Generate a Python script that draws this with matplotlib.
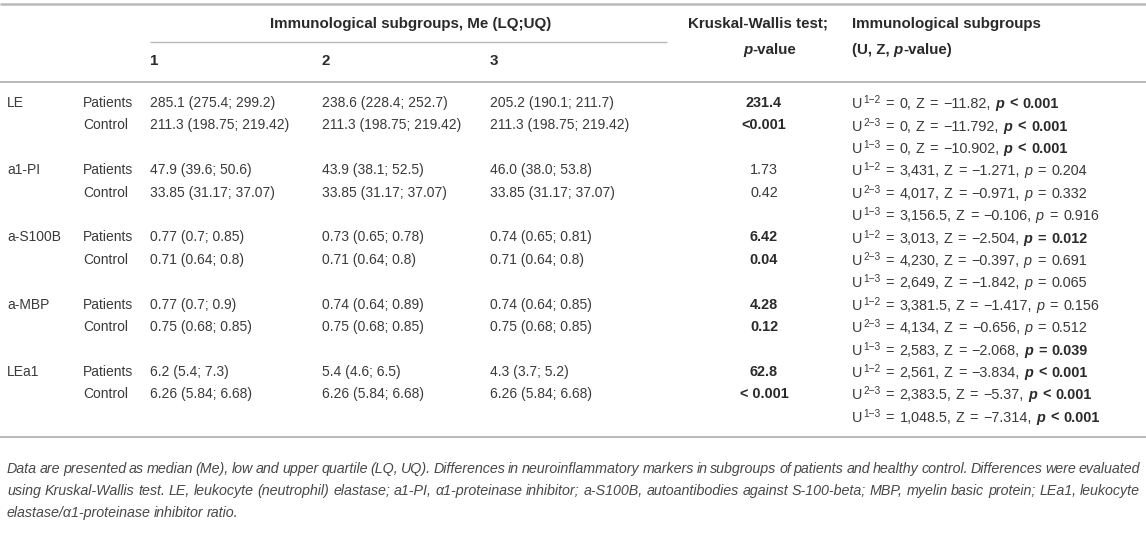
import matplotlib
matplotlib.use("Agg")
import matplotlib.pyplot as plt

# ---- table content ----
markers = ["LE", "a1-PI", "a-S100B", "a-MBP", "LEa1"]
groups = ["Patients", "Control"]
subgroups = ["1", "2", "3"]

# Me (LQ; UQ) per marker, subgroups 1..3
patients_me = [
    [(285.1, 275.4, 299.2), (238.6, 228.4, 252.7), (205.2, 190.1, 211.7)],
    [(47.9, 39.6, 50.6), (43.9, 38.1, 52.5), ("46.0", "38.0", 53.8)],
    [(0.77, 0.7, 0.85), (0.73, 0.65, 0.78), (0.74, 0.65, 0.81)],
    [(0.77, 0.7, 0.9), (0.74, 0.64, 0.89), (0.74, 0.64, 0.85)],
    [(6.2, 5.4, 7.3), (5.4, 4.6, 6.5), (4.3, 3.7, 5.2)],
]
control_me = [
    (211.3, 198.75, 219.42),
    (33.85, 31.17, 37.07),
    (0.71, 0.64, 0.8),
    (0.75, 0.68, 0.85),
    (6.26, 5.84, 6.68),
]

# Kruskal-Wallis: statistic (patients row) and p-value (control row)
kw_stat = ["231.4", "1.73", "6.42", "4.28", "62.8"]
kw_p = ["<0.001", "0.42", "0.04", "0.12", "< 0.001"]
kw_bold = [True, False, True, True, True]

# pairwise Mann-Whitney
pairs = ["1\u22122", "2\u22123", "1\u22123"]
u_vals = [
    [0, 0, 0],
    [3431, 4017, 3156.5],
    [3013, 4230, 2649],
    [3381.5, 4134, 2583],
    [2561, 2383.5, 1048.5],
]
z_vals = [
    ["-11.82", "-11.792", "-10.902"],
    ["-1.271", "-0.971", "-0.106"],
    ["-2.504", "-0.397", "-1.842"],
    ["-1.417", "-0.656", "-2.068"],
    ["-3.834", "-5.37", "-7.314"],
]
p_vals = [
    [0.001, 0.001, 0.001],
    [0.204, 0.332, 0.916],
    [0.012, 0.691, 0.065],
    [0.156, 0.512, 0.039],
    [0.001, 0.001, 0.001],
]

caption_lines = [
    "Data are presented as median (Me), low and upper quartile (LQ, UQ). Differences in neuroinflammatory "
    "markers in subgroups of patients and healthy control. Differences were evaluated",
    "using Kruskal-Wallis test. LE, leukocyte (neutrophil) elastase; a1-PI, \u03b11-proteinase inhibitor; "
    "a-S100B, autoantibodies against S-100-beta; MBP, myelin basic protein; LEa1, leukocyte",
    "elastase/\u03b11-proteinase inhibitor ratio.",
]

# ---- layout ----
W, H = 1146, 550
FONT = ["Liberation Sans", "DejaVu Sans"]
FS = 10.0
UFS = 10.4
HFS = 10.9
TXT = "#3a3a3a"
HDR = "#2a2a2a"
LINE = "#b9b9b9"

x_marker, x_group = 7, 83
x_cols = [150, 322, 490]
x_kw, x_u = 764, 852
y0, dy = 103, 22.4

fig = plt.figure(figsize=(W / 100, H / 100), dpi=100)
ax = fig.add_axes([0, 0, 1, 1])
ax.set_xlim(0, W)
ax.set_ylim(H, 0)
ax.axis("off")
renderer = fig.canvas.get_renderer()


def fmt(v):
    return v if isinstance(v, str) else str(v)


def me_text(t):
    return f"{fmt(t[0])} ({fmt(t[1])}; {fmt(t[2])})"


def put(x, y, s, **kw):
    opts = dict(fontsize=FS, color=TXT, family=FONT, va="center", ha="left")
    opts.update(kw)
    return ax.text(x, y, s, **opts)


def width(t):
    return t.get_window_extent(renderer).width


def runs(x, base, parts, ha="left", fs=FS):
    # parts: (text, kwargs, raise_px, gap_after_px)
    items = []
    for s, kw, up, gap in parts:
        opts = dict(fontsize=fs, color=TXT, family=FONT, va="baseline", ha="left")
        opts.update(kw)
        t = ax.text(x, base - up, s, **opts)
        items.append((t, gap))
    total = sum(width(t) + g for t, g in items) - items[-1][1]
    cx = x - total / 2 if ha == "center" else x
    for t, g in items:
        t.set_x(cx)
        cx += width(t) + g


# horizontal rules
ax.plot([0, W], [4, 4], color=LINE, lw=1.8, solid_capstyle="butt")
ax.plot([x_cols[0], 667], [42, 42], color=LINE, lw=1.0, solid_capstyle="butt")
ax.plot([0, W], [82, 82], color=LINE, lw=1.4, solid_capstyle="butt")
ax.plot([0, W], [437, 437], color=LINE, lw=1.4, solid_capstyle="butt")

# headers
hb = dict(weight="bold", color=HDR, fontsize=HFS)
hbi = dict(weight="bold", style="italic", color=HDR, fontsize=HFS)
put(411, 24, "Immunological subgroups, Me (LQ;UQ)", ha="center", **hb)
for x, s in zip(x_cols, subgroups):
    put(x, 61, s, **hb)
put(x_kw - 6, 24, "Kruskal-Wallis test;", ha="center", **hb)
runs(x_kw + 6, 54, [("p", hbi, 0, 0), ("-value", hb, 0, 0)], ha="center")
put(x_u, 24, "Immunological subgroups", **hb)
runs(x_u, 54, [("(U, Z,", hb, 0, 4.2), ("p", hbi, 0, 0), ("-value)", hb, 0, 0)])

SP = 4.0   # ordinary word space
OP = 5.4   # space around = and <
for i, m in enumerate(markers):
    yp = y0 + 3 * i * dy
    yc = yp + dy
    put(x_marker, yp, m)
    put(x_group, yp, groups[0])
    put(x_group, yc, groups[1])
    for j in range(3):
        put(x_cols[j], yp, me_text(patients_me[i][j]))
        put(x_cols[j], yc, me_text(control_me[i]))
    kwst = dict(weight="bold", color=HDR) if kw_bold[i] else {}
    put(x_kw, yp, kw_stat[i], ha="center", fontsize=UFS, **kwst)
    put(x_kw, yc, kw_p[i], ha="center", fontsize=UFS, **kwst)
    for k in range(3):
        base = yp + k * dy + 5.2
        p = p_vals[i][k]
        sig = p < 0.05
        pk = dict(weight="bold", color=HDR) if sig else {}
        zt = z_vals[i][k].replace("-", "\u2212")
        runs(x_u, base, [
            ("U", {}, 0, 0.6),
            (pairs[k], dict(fontsize=7.3), 5.0, OP),
            ("=", {}, 0, OP),
            (f"{u_vals[i][k]:,},", {}, 0, SP),
            ("Z", {}, 0, OP),
            ("=", {}, 0, OP),
            (f"{zt},", {}, 0, SP),
            ("p", dict(style="italic", **pk), 0, OP),
            ("<" if p <= 0.001 else "=", pk, 0, OP),
            (f"{p:.3f}", pk, 0, 0),
        ], fs=UFS)

# caption, justified
CAP_FONT = ["Liberation Sans Narrow", "Liberation Sans", "DejaVu Sans"]
cap_fs = 11.2
cap_x0, cap_x1 = 7, 1140
cap_y = [469, 491, 513]
cap_kw = dict(color="#484848", family=CAP_FONT, style="italic", va="center", ha="left")

for li, line in enumerate(caption_lines):
    words = line.split(" ")
    last = li == len(caption_lines) - 1
    fs = cap_fs
    while True:
        probes = [ax.text(0, -100, w_, fontsize=fs, **cap_kw) for w_ in words]
        ws = [width(t) for t in probes]
        for t in probes:
            t.remove()
        free = (cap_x1 - cap_x0) - sum(ws)
        if free / max(len(words) - 1, 1) > 2.2:
            break
        fs -= 0.1
    if li == 0:
        cap_fs = fs
    gap = 3.3 if last else free / (len(words) - 1)
    x = cap_x0
    for w_, ww in zip(words, ws):
        ax.text(x, cap_y[li], w_, fontsize=fs, **cap_kw)
        x += ww + gap

fig.savefig("out.png", dpi=100, facecolor="white")
